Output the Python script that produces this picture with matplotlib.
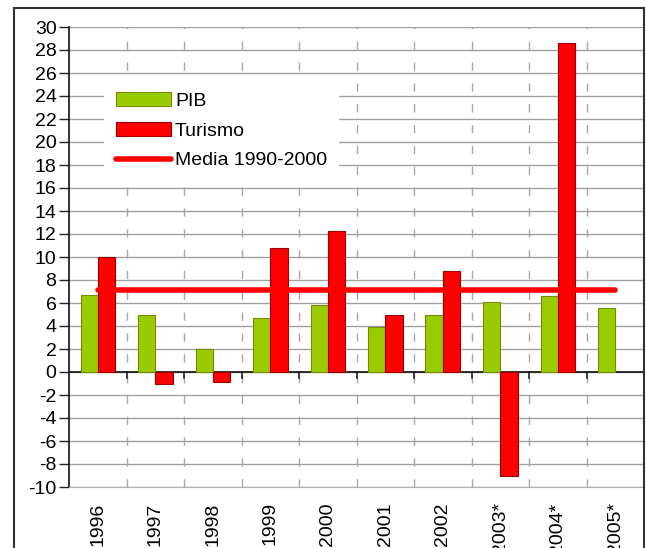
import matplotlib
matplotlib.use("Agg")
import matplotlib.pyplot as plt
import numpy as np
from matplotlib.patches import Rectangle

years = ["1996", "1997", "1998", "1999", "2000", "2001", "2002", "2003*", "2004*", "2005*"]
pib = [6.7, 5.0, 2.0, 4.7, 5.8, 3.9, 5.0, 6.1, 6.6, 5.6]
turismo = [10.0, -1.0, -0.9, 10.8, 12.3, 5.0, 8.8, -9.0, 28.6, np.nan]
media = 7.1
y_ticks = list(range(-10, 31, 2))

plt.rcParams['font.family'] = ['Liberation Sans', 'DejaVu Sans']

W, H = 646, 548
fig = plt.figure(figsize=(W / 100, H / 100), dpi=100)
fig.patches.append(Rectangle((14 / W, -0.05), (644 - 14) / W, 1 - 8 / H + 0.05,
                             transform=fig.transFigure, fill=False,
                             edgecolor='#333333', linewidth=1.5, zorder=0))

ax = fig.add_axes([69 / W, 1 - 487 / H, (644 - 69) / W, (487 - 27) / H])
x = np.arange(len(years))
bw = 0.3
h1 = ax.bar(x - bw / 2, pib, bw, color='#99CC00', edgecolor='#7A8A00', linewidth=0.8,
            label='PIB', zorder=3)
h2 = ax.bar(x + bw / 2, turismo, bw, color='#FF0000', edgecolor='#990000', linewidth=0.8,
            label='Turismo', zorder=3)
h3, = ax.plot([x[0], x[-1]], [media, media], color='#FF0000', linewidth=4,
              solid_capstyle='round', label='Media 1990-2000', zorder=4)

ax.set_xlim(-0.5, len(years) - 0.5)
ax.set_ylim(-10, 30)
ax.set_yticks(y_ticks)
ax.set_yticklabels([str(v) for v in y_ticks], fontsize=14)
ax.tick_params(axis='y', length=7, width=1, color='#222222', pad=2)
ax.yaxis.grid(True, color='#A0A0A0', linewidth=1, zorder=0)
ax.set_axisbelow(True)

for b in np.arange(0.5, len(years) - 0.5, 1):
    ax.axvline(b, color='#A8A8A8', linewidth=1, linestyle=(0, (6, 9)), zorder=1)
    ax.plot([b, b], [0, -0.55], color='#222222', linewidth=1.2, zorder=2)

ax.axhline(0, color='#111111', linewidth=1.2, zorder=2)

ax.set_xticks(x)
ax.set_xticklabels(years, rotation=90, fontsize=14, va='top')
ax.tick_params(axis='x', length=0, pad=11)

for s in ['top', 'right']:
    ax.spines[s].set_visible(False)
ax.spines['bottom'].set_color('#B0B0B0')
ax.spines['left'].set_color('#111111')
ax.spines['left'].set_linewidth(1.2)

leg = ax.legend([h1, h2, h3], ['PIB', 'Turismo', 'Media 1990-2000'],
                loc='upper left', bbox_to_anchor=((104 - 69) / 575, (487 - 80) / 460),
                fontsize=14, frameon=True, fancybox=False, handlelength=2.85,
                handleheight=0.75, labelspacing=0.62, borderpad=0.6,
                handletextpad=0.2, borderaxespad=0)
leg.get_frame().set_facecolor('white')
leg.get_frame().set_edgecolor('none')
leg.get_frame().set_alpha(1)

fig.savefig('out.png', dpi=100)
